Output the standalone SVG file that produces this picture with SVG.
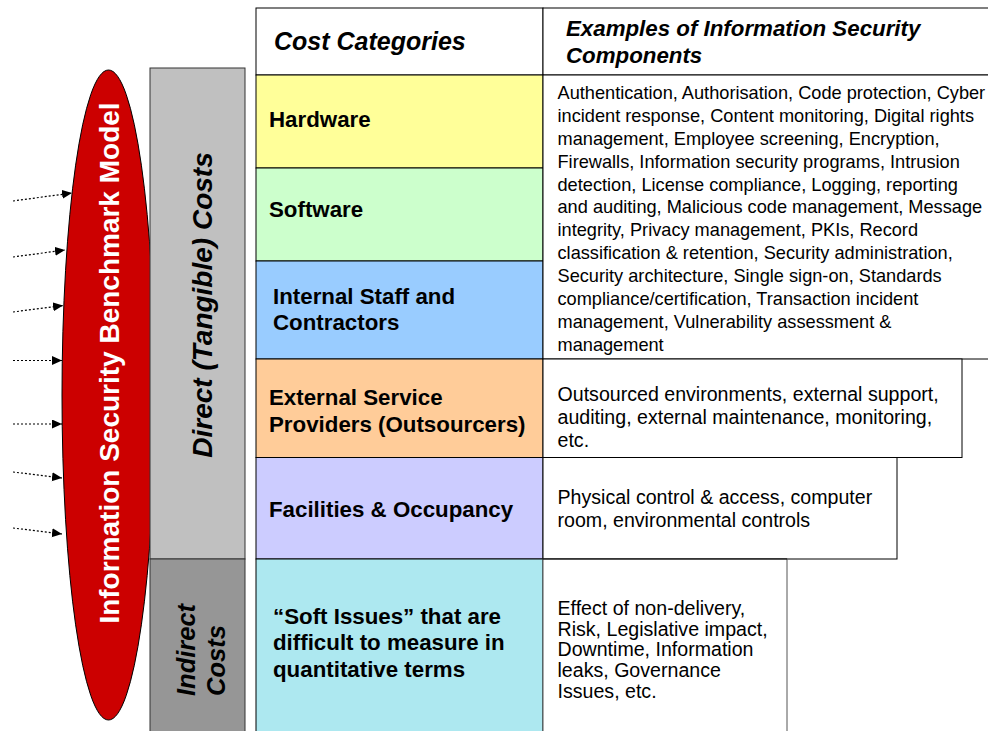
<svg xmlns="http://www.w3.org/2000/svg" width="988" height="731" viewBox="0 0 988 731">
  <style>
    text { font-family: "Liberation Sans", Arial, sans-serif; fill: #000; }
    .hdr { font-weight: bold; font-style: italic; }
    .cat { font-weight: bold; font-size: 22.3px; }
    .body { font-size: 18.2px; }
    .body-lg { font-size: 19.6px; }
    .cell { stroke: #000; stroke-width: 1; }
    .feed { fill: none; stroke: #000; stroke-width: 1.2; stroke-dasharray: 2 2; }
  </style>
  <defs>
    <marker id="arrowhead" markerUnits="userSpaceOnUse" markerWidth="11" markerHeight="10" refX="10" refY="4.5" orient="auto">
      <path d="M0,0 L10,4.5 L0,9 Z" fill="#000"/>
    </marker>
  </defs>

  <rect width="988" height="731" fill="#fff"/>

  <!-- benchmark model oval -->
  <g id="benchmark-model">
    <ellipse cx="108.5" cy="395" rx="46.5" ry="325" fill="#cc0000" stroke="#000" stroke-width="1"/>
    <text transform="translate(118.5,363) rotate(-90)" text-anchor="middle" font-size="28" font-weight="bold" style="fill:#fff">Information Security Benchmark Model</text>
  </g>

  <!-- inputs feeding the model -->
  <g id="connectors">
    <line class="feed" x1="13" y1="201" x2="72" y2="193" marker-end="url(#arrowhead)"/>
    <line class="feed" x1="13" y1="257" x2="65" y2="250" marker-end="url(#arrowhead)"/>
    <line class="feed" x1="13" y1="312" x2="63" y2="305.5" marker-end="url(#arrowhead)"/>
    <line class="feed" x1="13" y1="360.5" x2="62" y2="360.5" marker-end="url(#arrowhead)"/>
    <line class="feed" x1="13" y1="424" x2="62" y2="424" marker-end="url(#arrowhead)"/>
    <line class="feed" x1="13" y1="472" x2="62" y2="478" marker-end="url(#arrowhead)"/>
    <line class="feed" x1="13" y1="528" x2="62" y2="534" marker-end="url(#arrowhead)"/>
  </g>

  <!-- cost type bands -->
  <g id="direct-costs">
    <rect x="150" y="68" width="95" height="491" fill="#c0c0c0" stroke="#333" stroke-width="1"/>
    <text class="hdr" transform="translate(212,305) rotate(-90)" text-anchor="middle" font-size="28">Direct (Tangible) Costs</text>
  </g>
  <g id="indirect-costs">
    <rect x="150" y="559" width="95" height="180" fill="#969696" stroke="#333" stroke-width="1"/>
    <text class="hdr" transform="translate(195,696) rotate(-90)" font-size="25.5">Indirect</text>
    <text class="hdr" transform="translate(225,696) rotate(-90)" font-size="25.5">Costs</text>
  </g>

  <!-- header row -->
  <g id="header">
    <rect class="cell" x="256" y="8" width="287" height="67" fill="#fff"/>
    <rect class="cell" x="543" y="8" width="460" height="67" fill="#fff"/>
    <text class="hdr" x="274" y="50" font-size="25">Cost Categories</text>
    <text class="hdr" x="566" y="36" font-size="22.3">Examples of Information Security</text>
    <text class="hdr" x="566" y="63" font-size="22.3">Components</text>
  </g>

  <!-- cost categories -->
  <g id="hardware">
    <rect class="cell" x="256" y="75" width="287" height="93" fill="#ffff99"/>
    <text class="cat" x="269" y="127">Hardware</text>
  </g>
  <g id="software">
    <rect class="cell" x="256" y="168" width="287" height="93" fill="#ccffcc"/>
    <text class="cat" x="269" y="217">Software</text>
  </g>
  <g id="internal-staff">
    <rect class="cell" x="256" y="261" width="287" height="98" fill="#99ccff"/>
    <text class="cat" x="273" y="303.5">Internal Staff and</text>
    <text class="cat" x="273" y="330">Contractors</text>
  </g>
  <g id="external-providers">
    <rect class="cell" x="256" y="359" width="287" height="98.5" fill="#ffcc99"/>
    <text class="cat" x="269" y="405">External Service</text>
    <text class="cat" x="269" y="431.5">Providers (Outsourcers)</text>
  </g>
  <g id="facilities">
    <rect class="cell" x="256" y="457.5" width="287" height="101.5" fill="#ccccff"/>
    <text class="cat" x="269" y="517">Facilities &amp; Occupancy</text>
  </g>
  <g id="soft-issues">
    <rect class="cell" x="256" y="559" width="287" height="180" fill="#ade8f0"/>
    <text class="cat" x="273" y="623.5">“Soft Issues” that are</text>
    <text class="cat" x="273" y="650">difficult to measure in</text>
    <text class="cat" x="273" y="676.5">quantitative terms</text>
  </g>

  <!-- example components -->
  <g id="examples-direct">
    <rect class="cell" x="543" y="75" width="460" height="284" fill="#fff"/>
    <text class="body" x="557.5">
      <tspan x="557.5" y="99">Authentication, Authorisation, Code protection, Cyber</tspan>
      <tspan x="557.5" y="121.9">incident response, Content monitoring, Digital rights</tspan>
      <tspan x="557.5" y="144.8">management, Employee screening, Encryption,</tspan>
      <tspan x="557.5" y="167.6">Firewalls, Information security programs, Intrusion</tspan>
      <tspan x="557.5" y="190.5">detection, License compliance, Logging, reporting</tspan>
      <tspan x="557.5" y="213.4">and auditing, Malicious code management, Message</tspan>
      <tspan x="557.5" y="236.3">integrity, Privacy management, PKIs, Record</tspan>
      <tspan x="557.5" y="259.2">classification &amp; retention, Security administration,</tspan>
      <tspan x="557.5" y="282">Security architecture, Single sign-on, Standards</tspan>
      <tspan x="557.5" y="304.9">compliance/certification, Transaction incident</tspan>
      <tspan x="557.5" y="327.8">management, Vulnerability assessment &amp;</tspan>
      <tspan x="557.5" y="350.7">management</tspan>
    </text>
  </g>
  <g id="examples-external">
    <rect class="cell" x="543" y="359" width="419" height="98.5" fill="#fff"/>
    <text class="body-lg">
      <tspan x="557.5" y="400.5">Outsourced environments, external support,</tspan>
      <tspan x="557.5" y="423.8">auditing, external maintenance, monitoring,</tspan>
      <tspan x="557.5" y="447">etc.</tspan>
    </text>
  </g>
  <g id="examples-facilities">
    <rect class="cell" x="543" y="457.5" width="354" height="101.5" fill="#fff"/>
    <text class="body-lg">
      <tspan x="557.5" y="504">Physical control &amp; access, computer</tspan>
      <tspan x="557.5" y="526.7">room, environmental controls</tspan>
    </text>
  </g>
  <g id="examples-soft">
    <rect x="543" y="559" width="244" height="180" fill="#fff" stroke="#555" stroke-width="1"/>
    <line x1="543" y1="559" x2="787" y2="559" stroke="#000" stroke-width="1"/>
    <text class="body-lg">
      <tspan x="557.5" y="615">Effect of non-delivery,</tspan>
      <tspan x="557.5" y="635.7">Risk, Legislative impact,</tspan>
      <tspan x="557.5" y="656.4">Downtime, Information</tspan>
      <tspan x="557.5" y="677.1">leaks, Governance</tspan>
      <tspan x="557.5" y="697.8">Issues, etc.</tspan>
    </text>
  </g>
</svg>
